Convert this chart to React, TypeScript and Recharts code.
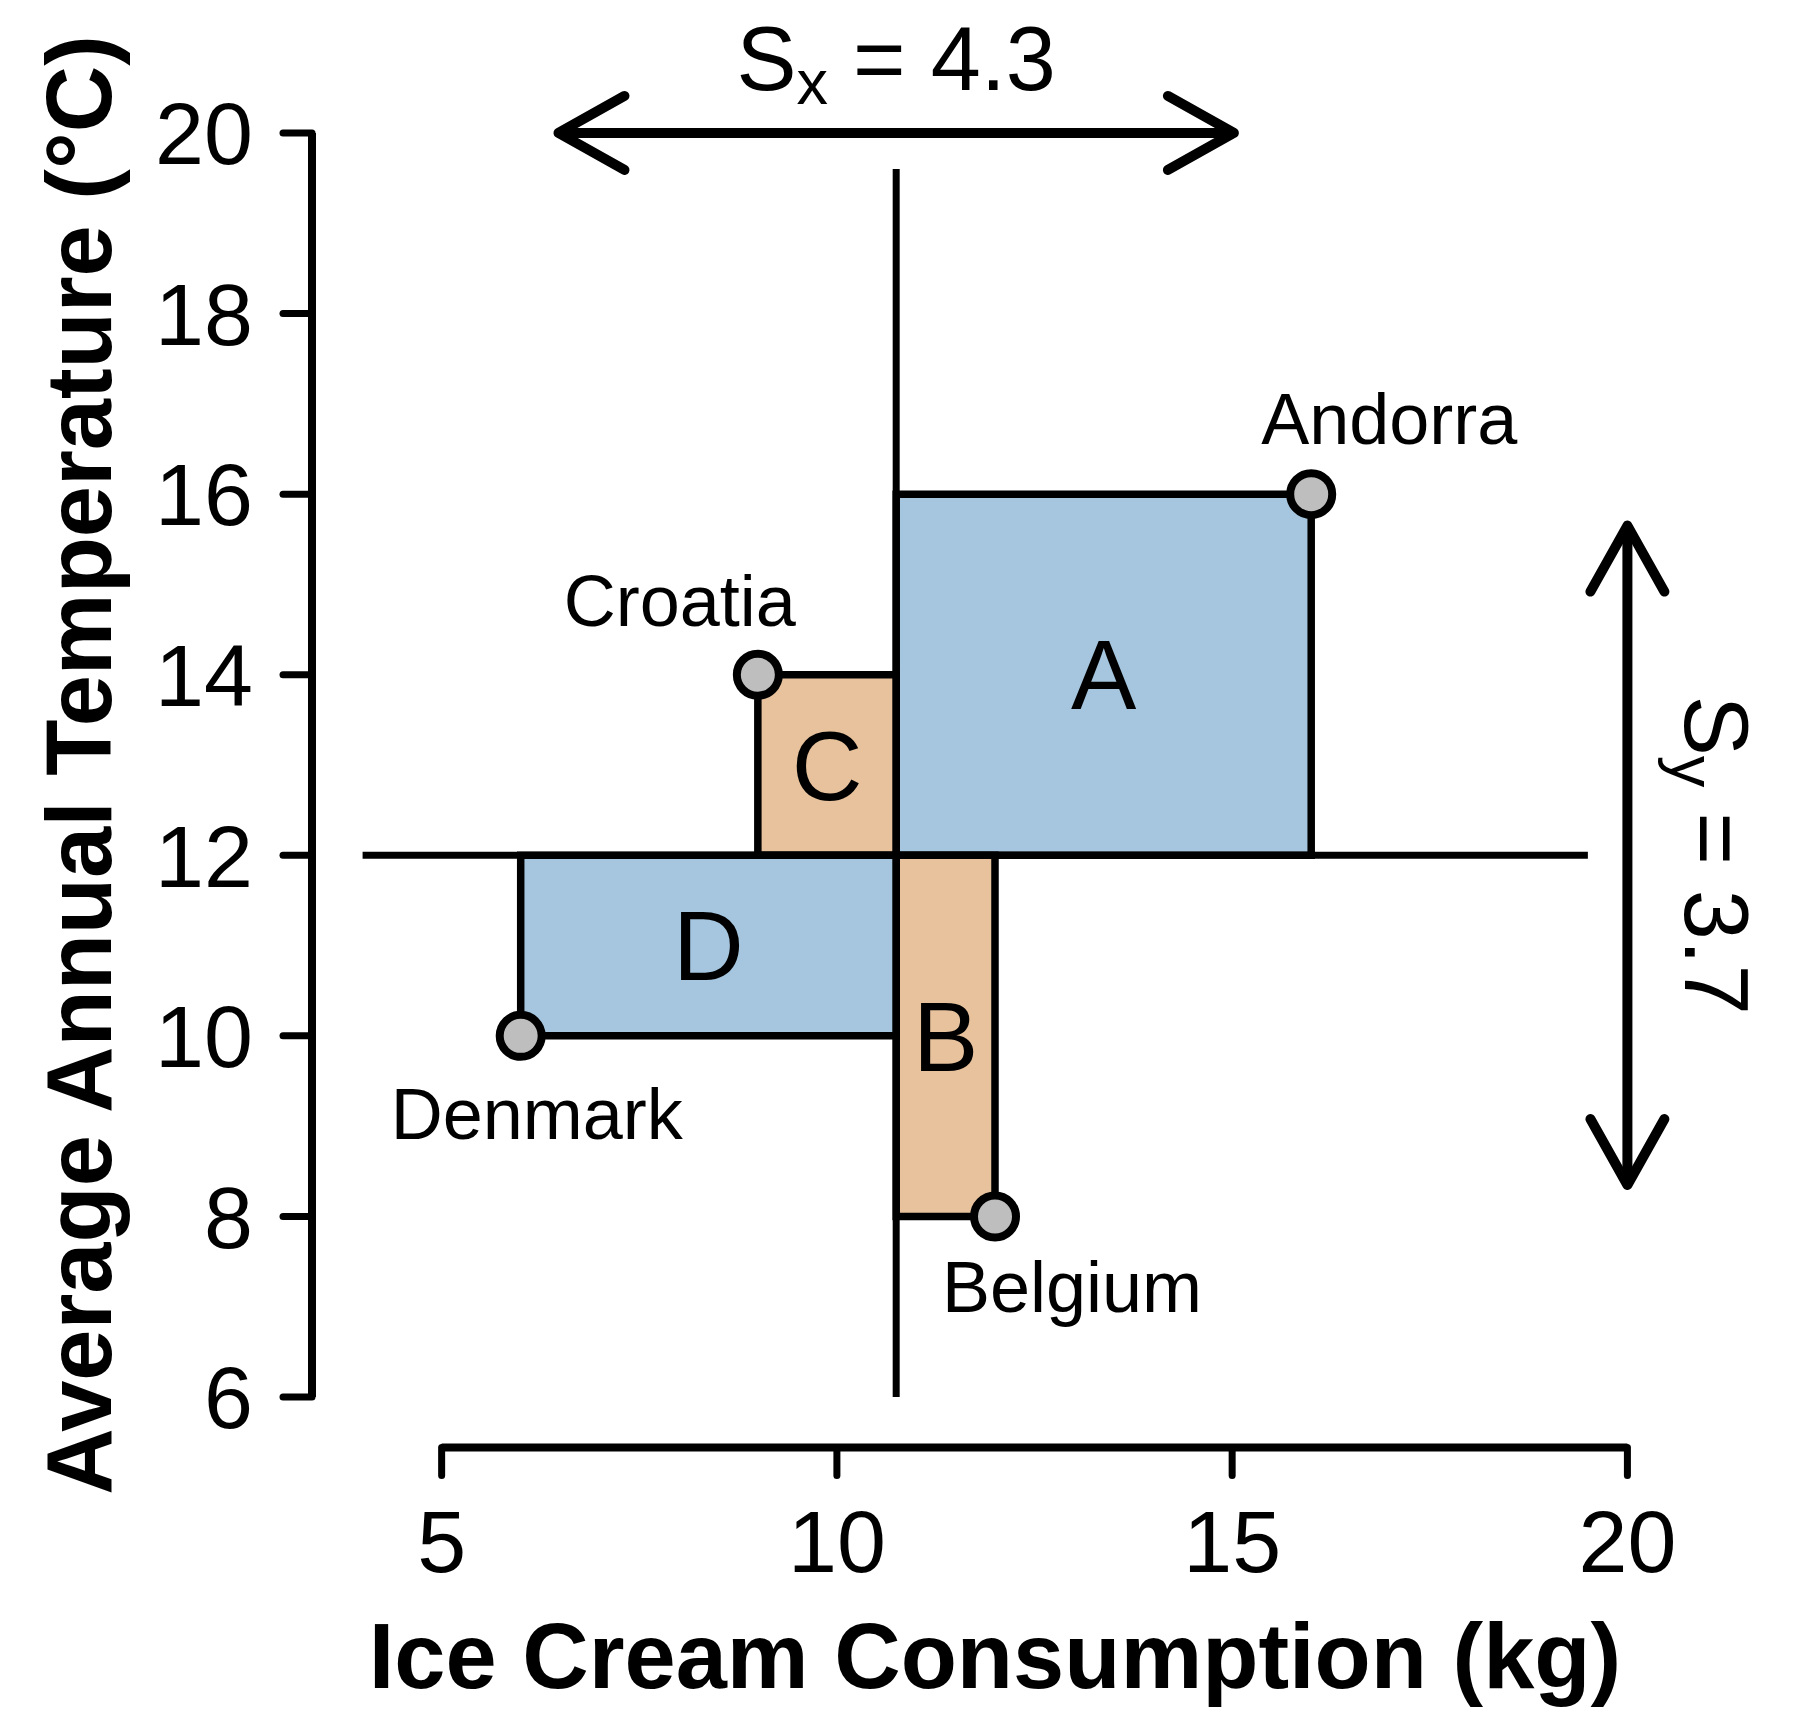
import { ComposedChart, XAxis, YAxis, Scatter, ReferenceArea, ReferenceLine, Label } from "recharts";

const countries = ["Andorra", "Belgium", "Croatia", "Denmark"];
const iceCream = [16, 12, 9, 6];
const temperature = [16, 8, 14, 10];
const quadrantLetters = ["A", "B", "C", "D"];
const xTicks = [5, 10, 15, 20];
const yTicks = [6, 8, 10, 12, 14, 16, 18, 20];

const FONT = '"Liberation Sans", Arial, Helvetica, sans-serif';
const BLUE = "#a5c6de";
const ORANGE = "#e7c29d";
const DOT = "#bebebe";

// pixel offsets of each country name from its point (baseline, centred)
const labelOffsets: Record<string, [number, number]> = {
  Andorra: [78, -50],
  Belgium: [77, 96],
  Croatia: [-78, -49],
  Denmark: [16, 103],
};

const mean = (a: number[]) => a.reduce((s, v) => s + v, 0) / a.length;
const sd = (a: number[]) => {
  const m = mean(a);
  return Math.sqrt(a.reduce((s, v) => s + (v - m) ** 2, 0) / (a.length - 1));
};

const mx = mean(iceCream);
const my = mean(temperature);
const sx = sd(iceCream);
const sy = sd(temperature);

// R style 4% axis extension
const pad = (lo: number, hi: number) => [lo - 0.04 * (hi - lo), hi + 0.04 * (hi - lo)];
const xDomain = pad(4, 20);
const yDomain = pad(6, 20);

const points = countries.map((name, i) => ({ name, x: iceCream[i], y: temperature[i] }));

const HEAD_LEN = 66;
const HEAD_HALF = 37;
const ARROW_W = 10;

function HArrow(props: any) {
  const { x1, y1, x2 } = props;
  const l = Math.min(x1, x2);
  const r = Math.max(x1, x2);
  const y = y1;
  return (
    <g>
      <line x1={l} y1={y} x2={r} y2={y} stroke="#000" strokeWidth={ARROW_W} />
      <path
        d={`M${l + HEAD_LEN},${y - HEAD_HALF} L${l},${y} L${l + HEAD_LEN},${y + HEAD_HALF}`}
        fill="none" stroke="#000" strokeWidth={ARROW_W} strokeLinecap="round" strokeLinejoin="round"
      />
      <path
        d={`M${r - HEAD_LEN},${y - HEAD_HALF} L${r},${y} L${r - HEAD_LEN},${y + HEAD_HALF}`}
        fill="none" stroke="#000" strokeWidth={ARROW_W} strokeLinecap="round" strokeLinejoin="round"
      />
      <text x={(l + r) / 2} y={y - 43} textAnchor="middle" fontSize={90} fontFamily={FONT} fill="#000">
        S<tspan fontSize={63} dy={14}>x</tspan>
        <tspan dy={-14}>{" = " + sx.toFixed(1)}</tspan>
      </text>
    </g>
  );
}

function VArrow(props: any) {
  const { x1, y1, y2 } = props;
  const t = Math.min(y1, y2);
  const b = Math.max(y1, y2);
  const x = x1;
  return (
    <g>
      <line x1={x} y1={t} x2={x} y2={b} stroke="#000" strokeWidth={ARROW_W} />
      <path
        d={`M${x - HEAD_HALF},${t + HEAD_LEN} L${x},${t} L${x + HEAD_HALF},${t + HEAD_LEN}`}
        fill="none" stroke="#000" strokeWidth={ARROW_W} strokeLinecap="round" strokeLinejoin="round"
      />
      <path
        d={`M${x - HEAD_HALF},${b - HEAD_LEN} L${x},${b} L${x + HEAD_HALF},${b - HEAD_LEN}`}
        fill="none" stroke="#000" strokeWidth={ARROW_W} strokeLinecap="round" strokeLinejoin="round"
      />
      <text
        transform={`translate(${x + 58},${(t + b) / 2}) rotate(90)`}
        textAnchor="middle" fontSize={90} fontFamily={FONT} fill="#000"
      >
        S<tspan fontSize={63} dy={14}>y</tspan>
        <tspan dy={-14}>{" = " + sy.toFixed(1)}</tspan>
      </text>
    </g>
  );
}

function CountryDot(props: any) {
  const { cx, cy, payload } = props;
  const [dx, dy] = labelOffsets[payload.name] || [0, 0];
  return (
    <g>
      <circle cx={cx} cy={cy} r={21} fill={DOT} stroke="#000" strokeWidth={8} />
      <text x={cx + dx} y={cy + dy} textAnchor="middle" fontSize={72} fontFamily={FONT} fill="#000">
        {payload.name}
      </text>
    </g>
  );
}

function XTitle(props: any) {
  const vb = props.viewBox || { x: 0, y: 0, width: 0, height: 0 };
  return (
    <text x={vb.x + vb.width / 2} y={vb.y + 240} textAnchor="middle" fontSize={92} fontWeight="bold" fontFamily={FONT} fill="#000">
      Ice Cream Consumption (kg)
    </text>
  );
}

function YTitle(props: any) {
  const vb = props.viewBox || { x: 0, y: 0, width: 0, height: 0 };
  const x = vb.x + 111;
  const y = vb.y + vb.height / 2;
  return (
    <text x={x} y={y} transform={`rotate(-90,${x},${y})`} textAnchor="middle" fontSize={92} fontWeight="bold" fontFamily={FONT} fill="#000">
      Average Annual Temperature (°C)
    </text>
  );
}

const tickStyle = { fontSize: 88, fill: "#000", fontFamily: FONT };
const tickLineStyle = { stroke: "#000", strokeWidth: 7, strokeLinecap: "round" as const };

export default function App() {
  return (
    <div style={{ position: "absolute", left: 0, top: 0, background: "#fff", fontFamily: FONT }}>
      <ComposedChart width={1794} height={1722} margin={{ top: 82.4, right: 116, bottom: 0, left: 0 }}>
        <XAxis
          type="number" dataKey="x" domain={xDomain} allowDataOverflow ticks={xTicks}
          axisLine={false} tickLine={tickLineStyle} tickSize={28} tickMargin={34}
          tick={tickStyle} height={274.4}
        >
          <Label content={XTitle} />
        </XAxis>
        <YAxis
          type="number" dataKey="y" domain={yDomain} allowDataOverflow ticks={yTicks}
          axisLine={false} tickLine={tickLineStyle} tickSize={29} tickMargin={30}
          tick={tickStyle} width={312}
        >
          <Label content={YTitle} />
        </YAxis>

        {points.map((p, i) => {
          const positive = (p.x - mx) * (p.y - my) > 0;
          return (
            <ReferenceArea
              key={p.name}
              x1={Math.min(mx, p.x)} x2={Math.max(mx, p.x)}
              y1={Math.min(my, p.y)} y2={Math.max(my, p.y)}
              fill={positive ? BLUE : ORANGE} fillOpacity={1}
              stroke="#000" strokeWidth={7.5} ifOverflow="visible"
            >
              <Label value={quadrantLetters[i]} position="center" fontSize={98} fill="#000" fontFamily={FONT} />
            </ReferenceArea>
          );
        })}

        {/* mean lines */}
        <ReferenceLine segment={[{ x: 4, y: my }, { x: 19.5, y: my }]} stroke="#000" strokeWidth={7} ifOverflow="visible" />
        <ReferenceLine segment={[{ x: mx, y: 6 }, { x: mx, y: 19.6 }]} stroke="#000" strokeWidth={7} ifOverflow="visible" />

        {/* R style axis lines */}
        <ReferenceLine segment={[{ x: xTicks[0], y: yDomain[0] }, { x: xTicks[xTicks.length - 1], y: yDomain[0] }]} stroke="#000" strokeWidth={8} ifOverflow="visible" />
        <ReferenceLine segment={[{ x: xDomain[0], y: yTicks[0] }, { x: xDomain[0], y: yTicks[yTicks.length - 1] }]} stroke="#000" strokeWidth={8} ifOverflow="visible" />

        {/* standard deviation arrows */}
        <ReferenceLine segment={[{ x: mx - sx, y: 20 }, { x: mx + sx, y: 20 }]} ifOverflow="visible" shape={HArrow} />
        <ReferenceLine segment={[{ x: 20, y: my - sy }, { x: 20, y: my + sy }]} ifOverflow="visible" shape={VArrow} />

        <Scatter data={points} dataKey="y" shape={CountryDot} isAnimationActive={false} />
      </ComposedChart>
    </div>
  );
}
